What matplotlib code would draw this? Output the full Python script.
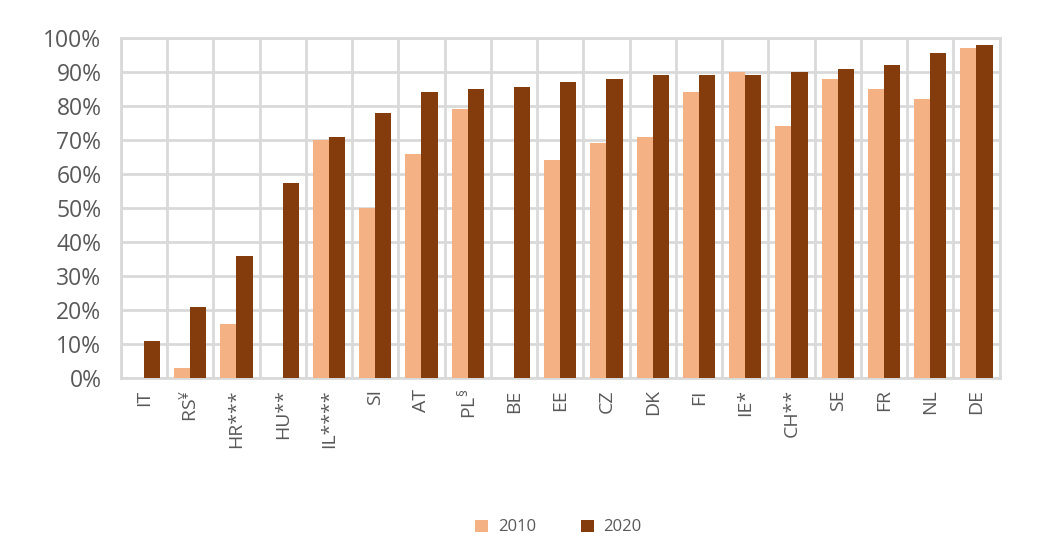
import matplotlib.pyplot as plt
import numpy as np

plt.rcParams['font.family'] = ['Open Sans', 'DejaVu Sans']
plt.rcParams['mathtext.fontset'] = 'custom'
plt.rcParams['mathtext.rm'] = 'Open Sans'

# data (percent), None = no bar
countries = ['IT', r'RS$^{\mathrm{¥}}$', 'HR***', 'HU**', 'IL****', 'SI', 'AT',
             r'PL$^{\mathrm{§}}$', 'BE', 'EE', 'CZ', 'DK', 'FI', 'IE*', 'CH**',
             'SE', 'FR', 'NL', 'DE']
v2010 = [None, 3, 16, None, 70, 50, 66, 79, None, 64, 69, 71, 84, 90, 74, 88, 85, 82, 97]
v2020 = [11, 21, 36, 57.5, 71, 78, 84, 85, 85.5, 87, 88, 89, 89, 89, 90, 91, 92, 95.5, 98]

c2010 = '#f4b183'
c2020 = '#843c0c'
grid = '#d9d9d9'
txt = '#595959'

fig = plt.figure(figsize=(10.6, 5.57), dpi=100)
ax = fig.add_axes([0.114, 0.321, 0.829, 0.611])

x = np.arange(len(countries))
w = 0.35
h10 = [np.nan if v is None else v for v in v2010]
ax.bar(x - w / 2, h10, w, color=c2010, label='2010', zorder=3)
ax.bar(x + w / 2, v2020, w, color=c2020, label='2020', zorder=3)

ax.set_xlim(-0.5, len(countries) - 0.5)
ax.set_ylim(0, 100)
ax.set_yticks(np.arange(0, 101, 10))
ax.set_yticklabels([f'{t}%' for t in range(0, 101, 10)], fontsize=16.5, color=txt)
ax.set_xticks(x)
ax.set_xticklabels(countries, rotation=90, fontsize=14, color=txt)
ax.tick_params(axis='x', length=0, pad=8)
ax.tick_params(axis='y', length=0, pad=14)

# grid: horizontal at each 10%, vertical at category boundaries
ax.set_xticks(np.arange(-0.5, len(countries), 1), minor=True)
ax.tick_params(which='minor', length=0)
ax.grid(True, axis='y', color=grid, linewidth=2, zorder=0)
ax.grid(True, axis='x', which='minor', color=grid, linewidth=2, zorder=0)
for s in ax.spines.values():
    s.set_color(grid)
    s.set_linewidth(2)

leg = fig.legend(loc='center', bbox_to_anchor=(0.527, 0.053), ncol=2, frameon=False,
                 fontsize=12, handlelength=0.75, handleheight=0.75, columnspacing=2.7,
                 handletextpad=0.6)
for t in leg.get_texts():
    t.set_color(txt)

fig.savefig('out.png', dpi=100)
